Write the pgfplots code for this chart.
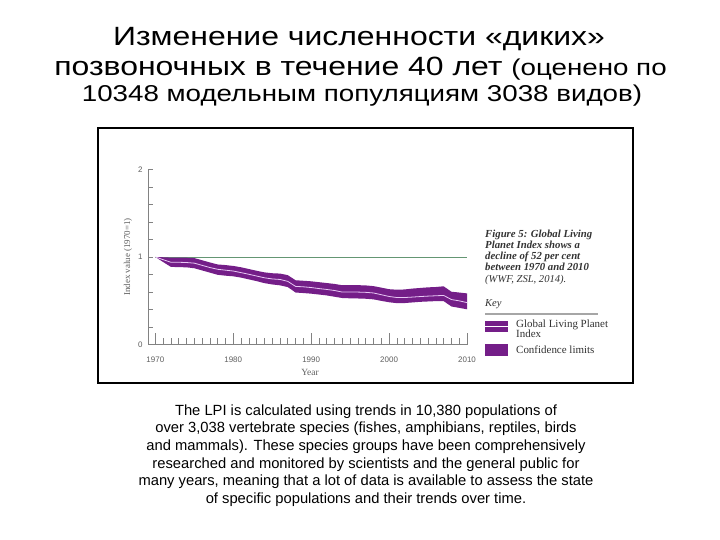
\documentclass[border=0pt]{standalone}
\usepackage{pgfplots}
\pgfplotsset{compat=1.18}
\usepackage{pgfplotstable}
\usepackage{fontspec}
\setmainfont{Liberation Sans}
\newfontfamily\serif{Liberation Serif}
\newfontfamily\titlefont[FakeStretch=1.21]{Liberation Sans}
\definecolor{lpipurple}{RGB}{116,30,136}
\definecolor{lpiline}{RGB}{232,200,245}
\definecolor{refgreen}{RGB}{100,150,115}
\definecolor{axgray}{RGB}{130,130,130}
\definecolor{labgray}{RGB}{95,95,95}

% Global Living Planet Index (centre line)
\pgfplotstableread{
year mid
1970 1.000
1971 0.970
1972 0.940
1973 0.940
1974 0.937
1975 0.930
1976 0.905
1977 0.880
1978 0.860
1979 0.850
1980 0.840
1981 0.822
1982 0.803
1983 0.783
1984 0.763
1985 0.750
1986 0.744
1987 0.722
1988 0.665
1989 0.660
1990 0.652
1991 0.640
1992 0.630
1993 0.618
1994 0.600
1995 0.600
1996 0.600
1997 0.597
1998 0.590
1999 0.570
2000 0.550
2001 0.538
2002 0.538
2003 0.543
2004 0.549
2005 0.554
2006 0.558
2007 0.562
2008 0.515
2009 0.500
2010 0.480
}\lpimid

% Confidence limits: upper (forward), then lower (backward)
\pgfplotstableread{
year val
1970 1.000
1971 0.997
1972 0.993
1973 0.993
1974 0.992
1975 0.988
1976 0.963
1977 0.938
1978 0.915
1979 0.908
1980 0.898
1981 0.883
1982 0.863
1983 0.843
1984 0.825
1985 0.815
1986 0.811
1987 0.793
1988 0.735
1989 0.729
1990 0.723
1991 0.713
1992 0.703
1993 0.693
1994 0.678
1995 0.680
1996 0.679
1997 0.676
1998 0.668
1999 0.651
2000 0.633
2001 0.627
2002 0.630
2003 0.640
2004 0.647
2005 0.654
2006 0.658
2007 0.666
2008 0.604
2009 0.595
2010 0.585
2010 0.404
2009 0.420
2008 0.436
2007 0.497
2006 0.497
2005 0.493
2004 0.489
2003 0.482
2002 0.475
2001 0.474
2000 0.484
1999 0.500
1998 0.517
1997 0.524
1996 0.527
1995 0.529
1994 0.532
1993 0.547
1992 0.562
1991 0.572
1990 0.582
1989 0.589
1988 0.595
1987 0.657
1986 0.677
1985 0.687
1984 0.702
1983 0.725
1982 0.745
1981 0.765
1980 0.780
1979 0.787
1978 0.797
1977 0.822
1976 0.847
1975 0.872
1974 0.882
1973 0.885
1972 0.887
1971 0.943
1970 1.000
}\lpiband

\begin{document}
\begin{tikzpicture}
\path[fill=white,use as bounding box] (0bp,0bp) rectangle (720bp,-540bp);

% titles
\node[anchor=base,inner sep=0pt] at (359bp,-45bp) {\titlefont\fontsize{26.5}{30}\selectfont Изменение численности «диких»};
\node[anchor=base,inner sep=0pt] at (360.5bp,-75bp) {\titlefont\fontsize{26.5}{30}\selectfont позвоночных в течение 40 лет \fontsize{23}{26}\selectfont(оценено по};
\node[anchor=base,inner sep=0pt] at (362bp,-101.7bp) {\titlefont\fontsize{23}{26}\selectfont 10348 модельным популяциям 3038 видов)};

% frame of embedded figure
\draw[line width=2bp,black] (97.5bp,-127.5bp) rectangle (632.5bp,-382.5bp);

\begin{axis}[
  at={(148bp,-344.7bp)}, anchor=south west,
  scale only axis, width=319bp, height=175.4bp,
  xmin=1969.06, xmax=2010, ymin=0, ymax=2,
  axis y line*=left, axis x line*=bottom,
  axis line style={draw=axgray, line width=0.6bp},
  xtick={1970,1980,1990,2000,2010}, minor x tick num=9,
  ytick={0,1,2}, minor ytick={0.2,0.4,0.6,0.8,1.2,1.4,1.6,1.8},
  tick align=inside,
  xtick style={draw=axgray, line width=0.6bp, /pgfplots/major tick length=11.5bp, /pgfplots/minor tick length=7bp},
  ytick style={draw=axgray, line width=0.6bp, /pgfplots/major tick length=4.5bp, /pgfplots/minor tick length=4.5bp},
  ticklabel style={font=\fontsize{8}{9}\selectfont, text=labgray},
  xticklabel style={yshift=-9bp},
  yticklabel style={xshift=-2bp},
  /pgf/number format/1000 sep={},
  /pgf/number format/assume math mode=true,
  clip=false,
]
\addplot[refgreen, line width=0.6bp, forget plot] coordinates {(1970,1) (2010,1)};
\addplot[fill=lpipurple, draw=none, forget plot] table[x=year,y=val] {\lpiband} -- cycle;
\addplot[lpiline, line width=0.8bp, forget plot] table[x=year,y=mid] {\lpimid};
\end{axis}

% axis labels
\node[rotate=90, text=labgray, font=\serif\fontsize{9}{10}\selectfont] at (128bp,-257bp) {Index value (1970=1)};
\node[text=labgray, font=\serif\fontsize{9.5}{10}\selectfont] at (310bp,-372bp) {Year};

% side caption
\begin{scope}[every node/.style={anchor=base west, inner sep=0pt, text=black!80}]
\node[font=\serif\bfseries\itshape\fontsize{10.8}{11}\selectfont] at (485bp,-237bp) {Figure 5: Global Living};
\node[font=\serif\bfseries\itshape\fontsize{10.8}{11}\selectfont] at (485bp,-248.3bp) {Planet Index shows a};
\node[font=\serif\bfseries\itshape\fontsize{10.8}{11}\selectfont] at (485bp,-259.6bp) {decline of 52 per cent};
\node[font=\serif\bfseries\itshape\fontsize{10.8}{11}\selectfont] at (485bp,-270.9bp) {between 1970 and 2010};
\node[font=\serif\itshape\fontsize{10.6}{11}\selectfont] at (485bp,-282bp) {(WWF, ZSL, 2014).};
\node[font=\serif\itshape\fontsize{10.6}{11}\selectfont] at (485bp,-306bp) {Key};
\node[font=\serif\fontsize{11}{11}\selectfont] at (516bp,-327bp) {Global Living Planet};
\node[font=\serif\fontsize{11}{11}\selectfont] at (516bp,-337.5bp) {Index};
\node[font=\serif\fontsize{11}{11}\selectfont] at (516bp,-353bp) {Confidence limits};
\end{scope}
\draw[gray!70, line width=1.2bp] (485bp,-314bp) -- (598bp,-314bp);
\fill[lpipurple] (485bp,-321bp) rectangle (508bp,-332bp);
\draw[white, line width=1.2bp] (485bp,-326.5bp) -- (508bp,-326.5bp);
\fill[lpipurple] (485bp,-344bp) rectangle (508bp,-356bp);

% paragraph
\begin{scope}[every node/.style={anchor=base, inner sep=0pt, font=\fontsize{14.8}{17}\selectfont}]
\node at (366bp,-415bp) {The LPI is calculated using trends in 10,380 populations of};
\node at (366bp,-432.7bp) {over 3,038 vertebrate species (fishes, amphibians, reptiles, birds};
\node at (366bp,-450.4bp) {and mammals). These species groups have been comprehensively};
\node at (366bp,-468.1bp) {researched and monitored by scientists and the general public for};
\node at (366bp,-485.8bp) {many years, meaning that a lot of data is available to assess the state};
\node at (366bp,-503.5bp) {of specific populations and their trends over time.};
\end{scope}
\end{tikzpicture}
\end{document}
